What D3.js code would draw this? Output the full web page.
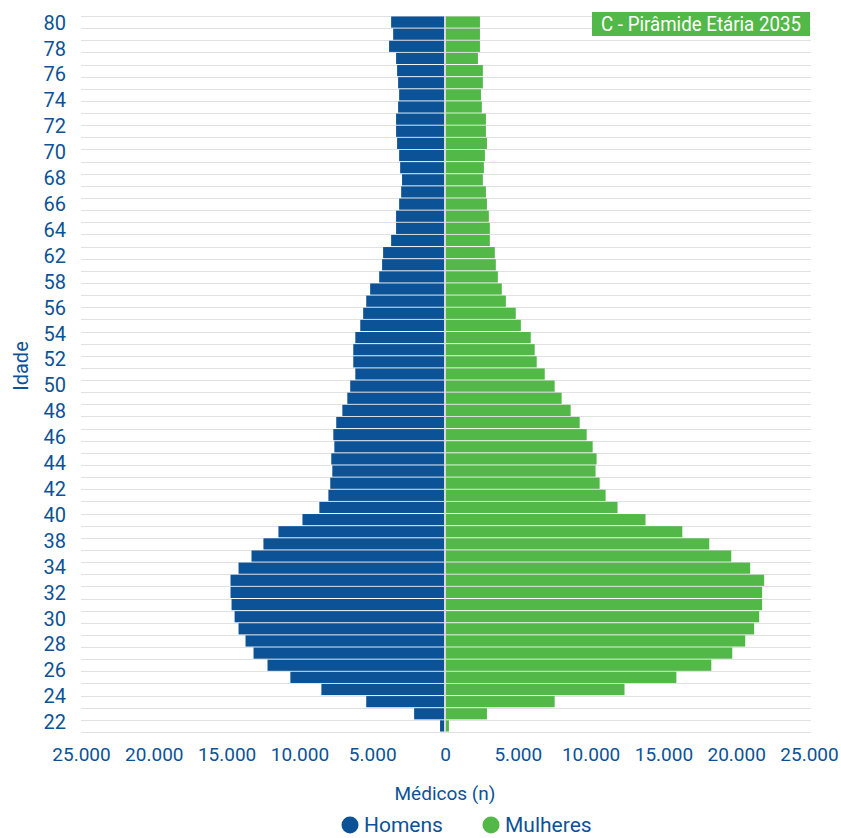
<!DOCTYPE html>
<html>
<head>
<meta charset="utf-8">
<script src="https://cdn.jsdelivr.net/npm/d3@7"></script>
<style>
  html, body { margin: 0; padding: 0; background: #ffffff; }
  text { font-family: Roboto, "Noto Sans", sans-serif; }
</style>
</head>
<body>
<svg id="chart" width="841" height="838"></svg>
<script>
// ---- Data ----
const ages = d3.range(80, 21, -1); // 80 .. 22
const homens = [
  3700,3560,3840,3360,3290,3220,3150,3220,3360,3360,3290,3150,3080,2950,3010,3150,3360,3360,3700,
  4250,4320,4520,5140,5410,5620,5820,6160,6300,6300,6160,6510,6710,7050,7470,7670,7600,7810,7740,7880,
  8010,8630,9790,11440,12470,13290,14180,14730,14730,14660,14450,14180,13700,13150,12190,10620,8490,5410,2120,340
];
const mulheres = [
  2400,2400,2400,2260,2600,2600,2470,2530,2810,2810,2880,2740,2670,2600,2810,2880,3010,3080,3080,
  3420,3490,3630,3900,4180,4860,5210,5890,6160,6300,6850,7530,8010,8630,9250,9730,10140,10410,10340,10620,
  11030,11850,13770,16300,18150,19660,20960,21920,21780,21780,21580,21230,20620,19730,18290,15890,12330,7530,2880,270
];
const ageTickLabels = ["80","78","76","74","72","70","68","66","64","62","58","56","54","52","50","48","46","44","42","40","38","34","32","30","28","26","24","22"];
const xTicks = [-25000,-20000,-15000,-10000,-5000,0,5000,10000,15000,20000,25000];
const seriesNames = ["Homens", "Mulheres"];
const titleText = "C - Pirâmide Etária 2035";

// ---- Styles ----
const BLUE = "#0c5296";
const GREEN = "#52b848";
const GRID = "#e1e1e3";

const svg = d3.select("#chart");

const x = d3.scaleLinear().domain([-25000, 25000]).range([81, 809]);
const y = d3.scaleBand().domain(ages).range([16, 732]).paddingInner(0.08).paddingOuter(0.04);
const yLab = d3.scalePoint().domain(ageTickLabels).range([22.7, 722.3]);

const locale = d3.formatLocale({decimal: ",", thousands: ".", grouping: [3], currency: ["R$", ""]});
const fmt = locale.format(",d");

// gridlines at band boundaries
const step = y.step();
const gridYs = ages.map(a => y(a) - step * y.paddingInner() / 2);
gridYs.push(gridYs[gridYs.length - 1] + step);
svg.append("g").selectAll("line").data(gridYs).join("line")
  .attr("x1", 81).attr("x2", 811)
  .attr("y1", d => Math.round(d) + 0.5).attr("y2", d => Math.round(d) + 0.5)
  .attr("stroke", GRID).attr("stroke-width", 1);

// bars
const rows = ages.map((a, i) => ({age: a, m: homens[i], f: mulheres[i]}));
svg.append("g").selectAll("rect").data(rows).join("rect")
  .attr("x", d => x(-d.m)).attr("width", d => x(0) - x(-d.m))
  .attr("y", d => y(d.age)).attr("height", y.bandwidth())
  .attr("fill", BLUE);
svg.append("g").selectAll("rect").data(rows).join("rect")
  .attr("x", x(0)).attr("width", d => x(d.f) - x(0))
  .attr("y", d => y(d.age)).attr("height", y.bandwidth())
  .attr("fill", GREEN);

// zero line
svg.append("line")
  .attr("x1", x(0)).attr("x2", x(0)).attr("y1", 16).attr("y2", 732)
  .attr("stroke", "#d9d9d9").attr("stroke-width", 2);

// y axis labels
const yAxis = d3.axisLeft(yLab).tickSize(0).tickPadding(0);
const gy = svg.append("g").attr("transform", "translate(66,0)").call(yAxis);
gy.select(".domain").remove();
gy.selectAll("text").attr("font-size", 20).attr("fill", BLUE).attr("font-family", "Roboto");

// x axis labels
const xAxis = d3.axisBottom(x).tickValues(xTicks).tickSize(0).tickPadding(0)
  .tickFormat(d => fmt(Math.abs(d)));
const gx = svg.append("g").attr("transform", "translate(0,747)").call(xAxis);
gx.select(".domain").remove();
gx.selectAll("text").attr("font-size", 19).attr("fill", BLUE).attr("font-family", "Roboto");

// axis titles
svg.append("text").attr("x", x(0)).attr("y", 800)
  .attr("text-anchor", "middle").attr("font-size", 19).attr("fill", BLUE)
  .text("Médicos (n)");
svg.append("text").attr("transform", "translate(28,366) rotate(-90)")
  .attr("text-anchor", "middle").attr("font-size", 20).attr("fill", BLUE)
  .text("Idade");

// legend
const legendColor = d3.scaleOrdinal().domain(seriesNames).range([BLUE, GREEN]);
const legendX = [350, 491];
const lg = svg.append("g").selectAll("g").data(seriesNames).join("g")
  .attr("transform", (d, i) => `translate(${legendX[i]},825)`);
lg.append("circle").attr("r", 8.5).attr("fill", d => legendColor(d));
lg.append("text").attr("x", 14).attr("y", 7).attr("font-size", 21).attr("fill", BLUE).text(d => d);

// title box
svg.append("rect").attr("x", 592).attr("y", 12).attr("width", 218).attr("height", 24).attr("fill", GREEN);
svg.append("text").attr("x", 701).attr("y", 31).attr("text-anchor", "middle")
  .attr("font-size", 20).attr("fill", "#ffffff")
  .attr("textLength", 200).attr("lengthAdjust", "spacingAndGlyphs")
  .text(titleText);
</script>
</body>
</html>
